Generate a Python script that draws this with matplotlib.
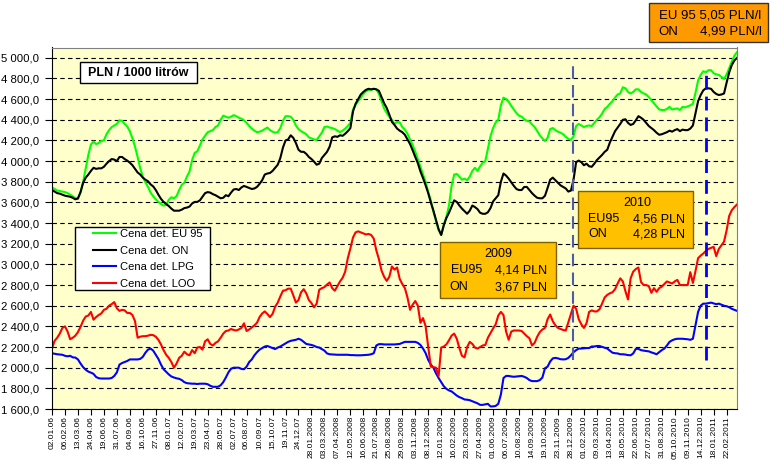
import matplotlib
matplotlib.use("Agg")
import matplotlib.pyplot as plt
from matplotlib.patches import Rectangle
from matplotlib.ticker import FuncFormatter, MultipleLocator

# weekly data, one label every 5 weeks
tick_labels = ['02.01.06', '06.02.06', '13.03.06', '24.04.06', '19.06.06', '31.07.06', '04.09.06',
               '16.10.06', '27.11.06', '08.01.07', '12.02.07', '19.03.07', '23.04.07', '28.05.07',
               '02.07.07', '06.08.07', '10.09.07', '15.10.07', '19.11.07', '24.12.07', '28.01.2008',
               '03.03.2008', '07.04.2008', '12.05.2008', '16.06.2008', '21.07.2008', '25.08.2008',
               '29.09.2008', '03.11.2008', '08.12.2008', '12.01.2009', '16.02.2009', '23.03.2009',
               '27.04.2009', '01.06.2009', '06.07.2009', '10.08.2009', '14.09.2009', '19.10.2009',
               '23.11.2009', '28.12.2009', '01.02.2010', '09.03.2010', '13.04.2010', '18.05.2010',
               '22.06.2010', '27.07.2010', '31.08.2010', '05.10.2010', '09.11.2010', '14.12.2010',
               '18.01.2011', '22.02.2011']

eu95 = [3745, 3730, 3715, 3710, 3705, 3700, 3690, 3675, 3660, 3640,
        3632, 3700, 3800, 3930, 4060, 4160, 4190, 4165, 4175, 4195,
        4200, 4260, 4300, 4330, 4345, 4360, 4395, 4390, 4360, 4335,
        4290, 4220, 4140, 4040, 3930, 3850, 3795, 3750, 3695, 3660,
        3630, 3605, 3585, 3570, 3575, 3625, 3650, 3640, 3660, 3720,
        3770, 3790, 3850, 3900, 4010, 4080, 4095, 4150, 4210, 4245,
        4280, 4290, 4300, 4330, 4345, 4400, 4440, 4430, 4420, 4430,
        4445, 4435, 4420, 4410, 4395, 4370, 4340, 4315, 4295, 4280,
        4285, 4295, 4310, 4325, 4300, 4285, 4275, 4280, 4320, 4390,
        4435, 4435, 4430, 4400, 4345, 4310, 4290, 4275, 4260, 4230,
        4220, 4210, 4205, 4240, 4275, 4330, 4335, 4325, 4320, 4310,
        4295, 4280, 4295, 4315, 4340, 4370, 4500, 4545, 4580, 4615,
        4650, 4675, 4690, 4690, 4700, 4695, 4650, 4580, 4510, 4465,
        4430, 4400, 4360, 4380, 4375, 4330, 4305, 4265, 4210, 4155,
        4090, 4020, 3945, 3870, 3800, 3700, 3620, 3510, 3420, 3335,
        3285, 3380, 3460, 3570, 3760, 3870, 3875, 3850, 3820, 3830,
        3815, 3850, 3905, 3935, 3905, 3950, 3985, 4000, 4120, 4240,
        4320, 4375, 4400, 4540, 4615, 4600, 4575, 4535, 4500, 4465,
        4440, 4430, 4405, 4390, 4385, 4355, 4330, 4290, 4250, 4220,
        4195, 4225, 4310, 4320, 4300, 4285, 4275, 4260, 4235, 4215,
        4205, 4240, 4340, 4360, 4345, 4330, 4340, 4345, 4340, 4370,
        4400, 4425, 4460, 4505, 4525, 4555, 4580, 4615, 4645, 4655,
        4715, 4705, 4670, 4655, 4670, 4695, 4695, 4670, 4655, 4645,
        4620, 4590, 4560, 4530, 4500, 4495, 4495, 4505, 4525, 4500,
        4505, 4510, 4495, 4525, 4520, 4530, 4540, 4555, 4660, 4780,
        4835, 4870, 4860, 4880, 4880, 4850, 4840, 4835, 4815, 4795,
        4840, 4900, 4965, 5020, 5055]

on = [3720, 3705, 3690, 3685, 3675, 3665, 3660, 3655, 3645, 3630,
      3640, 3700, 3790, 3840, 3870, 3905, 3935, 3925, 3930, 3930,
      3945, 3975, 4000, 4020, 4015, 4000, 4040, 4040, 4020, 4005,
      3985, 3960, 3925, 3890, 3870, 3840, 3820, 3805, 3775, 3755,
      3720, 3675, 3635, 3605, 3585, 3565, 3540, 3520, 3520, 3520,
      3530, 3545, 3550, 3560, 3590, 3605, 3605, 3620, 3655, 3690,
      3700, 3695, 3680, 3670, 3655, 3640, 3645, 3670, 3660, 3695,
      3725, 3730, 3720, 3745, 3760, 3750, 3740, 3730, 3735, 3750,
      3780, 3815, 3870, 3880, 3885, 3905, 3935, 3965, 4030, 4130,
      4200, 4210, 4250, 4225, 4175, 4110, 4090, 4090, 4070, 4040,
      4020, 3995, 3965, 3975, 4030, 4060, 4090, 4140, 4230, 4240,
      4235, 4250, 4245, 4265, 4290, 4320, 4480, 4555, 4600, 4645,
      4670, 4690, 4700, 4695, 4700, 4695, 4680, 4620, 4560, 4515,
      4450, 4380, 4350, 4315, 4295, 4280, 4255, 4210, 4165, 4105,
      4040, 3980, 3900, 3835, 3765, 3690, 3600, 3520, 3430, 3340,
      3285, 3380, 3450, 3500, 3560, 3620, 3605, 3570, 3540, 3515,
      3490, 3520, 3570, 3555, 3535, 3500, 3490, 3490, 3505, 3545,
      3610, 3640, 3670, 3800, 3880, 3860, 3830, 3795, 3760, 3730,
      3720, 3720, 3750, 3750, 3720, 3690, 3665, 3645, 3640, 3640,
      3665, 3740, 3820, 3840, 3815, 3790, 3765, 3750, 3735, 3705,
      3715, 3820, 3990, 4005, 3990, 3960, 3975, 3950, 3945, 3975,
      4010, 4035, 4060, 4090, 4110, 4180, 4235, 4290, 4325, 4360,
      4400, 4405, 4370, 4350, 4360, 4395, 4435, 4420, 4400, 4370,
      4340, 4320, 4300, 4275, 4255, 4260, 4270, 4280, 4295, 4285,
      4300, 4310, 4290, 4305, 4300, 4300, 4315, 4345, 4460, 4580,
      4640, 4685, 4705, 4705, 4700, 4670, 4650, 4640, 4645, 4655,
      4760, 4860, 4930, 4975, 5000]

lpg = [2140, 2135, 2130, 2128, 2125, 2115, 2110, 2115, 2100, 2098,
       2080, 2040, 2005, 1980, 1962, 1952, 1940, 1910, 1898, 1895,
       1895, 1895, 1895, 1900, 1920, 1955, 2030, 2045, 2055, 2065,
       2080, 2080, 2080, 2080, 2085, 2105, 2145, 2175, 2185, 2165,
       2125, 2085, 2030, 1985, 1960, 1935, 1915, 1905, 1897, 1892,
       1880, 1860, 1850, 1847, 1845, 1845, 1842, 1845, 1845, 1845,
       1840, 1825, 1815, 1815, 1815, 1830, 1860, 1905, 1955, 1990,
       2000, 2000, 2000, 1988, 1985, 2010, 2055, 2080, 2120, 2150,
       2175, 2190, 2205, 2210, 2200, 2190, 2180, 2195, 2205, 2220,
       2235, 2250, 2260, 2265, 2270, 2280, 2270, 2250, 2230, 2225,
       2220, 2212, 2200, 2195, 2180, 2165, 2138, 2130, 2128, 2125,
       2125, 2125, 2125, 2125, 2125, 2122, 2122, 2120, 2120, 2120,
       2122, 2125, 2125, 2130, 2140, 2215, 2228, 2228, 2225, 2225,
       2225, 2225, 2225, 2228, 2230, 2240, 2250, 2250, 2250, 2250,
       2250, 2240, 2220, 2185, 2140, 2075, 2030, 2000, 1945, 1900,
       1860, 1820, 1795, 1780, 1770, 1750, 1730, 1715, 1705, 1692,
       1690, 1685, 1675, 1665, 1655, 1640, 1640, 1645, 1650, 1625,
       1625, 1630, 1650, 1740, 1900, 1920, 1920, 1915, 1912, 1915,
       1918, 1920, 1912, 1900, 1880, 1870, 1870, 1870, 1880, 1905,
       1995, 2010, 2060, 2090, 2095, 2090, 2082, 2080, 2082, 2095,
       2120, 2150, 2170, 2185, 2185, 2188, 2190, 2190, 2205, 2205,
       2210, 2210, 2202, 2195, 2185, 2165, 2145, 2140, 2138, 2130,
       2130, 2127, 2122, 2120, 2138, 2182, 2182, 2170, 2165, 2162,
       2158, 2148, 2140, 2130, 2150, 2170, 2185, 2215, 2250, 2265,
       2275, 2280, 2280, 2280, 2278, 2275, 2270, 2280, 2410, 2540,
       2600, 2620, 2620, 2625, 2630, 2622, 2615, 2620, 2610, 2600,
       2595, 2585, 2570, 2560, 2550]

loo = [2185, 2260, 2290, 2330, 2385, 2400, 2350, 2275, 2290, 2310,
       2345, 2395, 2455, 2495, 2505, 2540, 2465, 2490, 2510, 2525,
       2560, 2570, 2600, 2615, 2635, 2575, 2550, 2560, 2555, 2530,
       2530, 2510, 2450, 2290, 2300, 2305, 2305, 2310, 2318, 2315,
       2300, 2270, 2225, 2170, 2125, 2095, 2055, 2000, 2040, 2095,
       2115, 2155, 2130, 2120, 2170, 2140, 2195, 2200, 2175, 2255,
       2275, 2230, 2215, 2240, 2255, 2290, 2330, 2355, 2360, 2375,
       2365, 2360, 2370, 2385, 2430, 2355, 2370, 2390, 2410, 2435,
       2490, 2525, 2545, 2520, 2490, 2520, 2590, 2630, 2690, 2745,
       2750, 2765, 2765, 2700, 2630, 2655, 2730, 2760, 2720, 2655,
       2625, 2585, 2620, 2755, 2770, 2780, 2805, 2825, 2770, 2745,
       2790, 2835, 2870, 2930, 3060, 3155, 3260, 3310, 3320, 3310,
       3300, 3290, 3295, 3285, 3250, 3135, 3050, 2940, 2880, 2840,
       2880, 2980, 2950, 2970, 2860, 2810, 2770, 2680, 2560, 2610,
       2645, 2600, 2435, 2480, 2400, 2200, 2010, 2005, 2000, 1920,
       2195, 2205, 2225, 2265, 2310, 2330, 2280, 2190, 2115, 2100,
       2200, 2250, 2230, 2195, 2185, 2200, 2215, 2220, 2290, 2335,
       2380, 2420, 2505, 2540, 2510, 2350, 2270, 2350, 2360, 2360,
       2360, 2355, 2330, 2305, 2285, 2215, 2240, 2300, 2345, 2370,
       2385, 2470, 2515, 2450, 2410, 2385, 2375, 2365, 2360, 2440,
       2520, 2600, 2570, 2470, 2420, 2385, 2430, 2540, 2555, 2545,
       2545, 2565, 2620, 2680, 2705, 2720, 2730, 2760, 2815, 2865,
       2835, 2740, 2660, 2865, 2930, 2955, 2970, 2830, 2800, 2800,
       2790, 2725, 2770, 2735, 2770, 2785, 2810, 2835, 2825, 2815,
       2835, 2850, 2800, 2800, 2800, 2800, 2925, 2820, 2935, 3060,
       3085, 3105, 3130, 3150, 3160, 3170, 3080, 3150, 3185, 3220,
       3330, 3470, 3525, 3555, 3580]

# week positions of the two year markers
marker_2010 = 200.7
marker_2011 = 251.9

plt.rcParams['font.family'] = ['Liberation Sans', 'DejaVu Sans']

W, H = 770, 461


def fpos(x, y):
    return x / W, 1 - y / H


fig = plt.figure(figsize=(W / 100, H / 100), dpi=100)
ax = fig.add_axes([52 / W, 1 - 409 / H, (737 - 52) / W, (409 - 47.5) / H])
ax.set_facecolor('#FFFFCC')

x = list(range(len(eu95)))
l1, = ax.plot(x, eu95, color='#00FF00', lw=1.5, label='Cena det. EU 95')
l2, = ax.plot(x, on, color='black', lw=1.5, label='Cena det. ON')
l3, = ax.plot(x, lpg, color='#0000FF', lw=1.5, label='Cena det. LPG')
l4, = ax.plot(x, loo, color='#FF0000', lw=1.5, label='Cena det. LOO')

ax.plot([marker_2010, marker_2010], [2074, 4929], color='#4B5CA8', lw=1.5, dashes=(6, 3))
ax.plot([marker_2011, marker_2011], [2074, 4880], color='#0000FF', lw=2.0, dashes=(5, 2.5))

ax.set_xlim(0, len(eu95) - 1)
ax.set_ylim(1600, 5100)
ax.yaxis.set_major_locator(MultipleLocator(200))
ax.yaxis.set_major_formatter(FuncFormatter(
    lambda v, p: f"{v:,.1f}".replace(',', ' ').replace('.', ',')))
ax.yaxis.grid(True, color='black', lw=0.8, dashes=(4, 3))
ax.set_axisbelow(True)

ax.set_xticks(range(0, 5 * len(tick_labels), 5))
ax.set_xticklabels(tick_labels, rotation=90, fontsize=6)
ax.tick_params(axis='x', length=4, pad=1)
ax.tick_params(axis='y', length=5, pad=4, labelsize=8.2)

for s in ['top', 'right']:
    ax.spines[s].set_color('#808080')
for s in ['left', 'bottom']:
    ax.spines[s].set_color('black')

# title box
fig.add_artist(Rectangle(fpos(80, 83), 117 / W, 21 / H, transform=fig.transFigure,
                         facecolor='white', edgecolor='black', lw=1, zorder=3))
fig.text(*fpos(138.5, 72.5), 'PLN / 1000 litrów', fontsize=9, fontweight='bold',
         ha='center', va='center', zorder=4)

# legend box
fig.add_artist(Rectangle(fpos(75, 290), 135 / W, 63 / H, transform=fig.transFigure,
                         facecolor='white', edgecolor='black', lw=1, zorder=3))
fig.legend(handles=[l1, l2, l3, l4], loc='upper left', bbox_to_anchor=fpos(93, 229),
           bbox_transform=fig.transFigure, frameon=False, fontsize=8, handlelength=2.1,
           handletextpad=0.3, labelspacing=0.6, borderpad=0, borderaxespad=0)


def info_box(x0, y0, x1, y1, face, edge, lines, size):
    fig.add_artist(Rectangle(fpos(x0, y1), (x1 - x0) / W, (y1 - y0) / H,
                             transform=fig.transFigure, facecolor=face, edgecolor=edge,
                             lw=1, zorder=3))
    for yy, left, right, lx, rx in lines:
        if right is None:
            fig.text(*fpos(lx, yy), left, fontsize=size, ha='center', va='center', zorder=4)
        else:
            fig.text(*fpos(lx, yy), left, fontsize=size, ha='left', va='center', zorder=4)
            fig.text(*fpos(rx, yy), right, fontsize=size, ha='right', va='center', zorder=4)


info_box(440, 242, 556, 298, '#FFC000', '#7F6000',
         [(254, '2009', None, 498, None),
          (270, 'EU95', '4,14 PLN', 451, 547),
          (287, 'ON', '3,67 PLN', 449, 547)], 9)
info_box(578, 191, 693, 248, '#FFC000', '#7F6000',
         [(203, '2010', None, 637, None),
          (219, 'EU95', '4,56 PLN', 588, 685),
          (234, 'ON', '4,28 PLN', 588, 685)], 9)
info_box(649, 3, 768, 42, '#FF9900', '#333333',
         [(15, 'EU 95 5,05 PLN/l', None, 710, None),
          (32, 'ON', '4,99 PLN/l', 658, 762)], 9.5)

fig.savefig('out.png', dpi=100)
